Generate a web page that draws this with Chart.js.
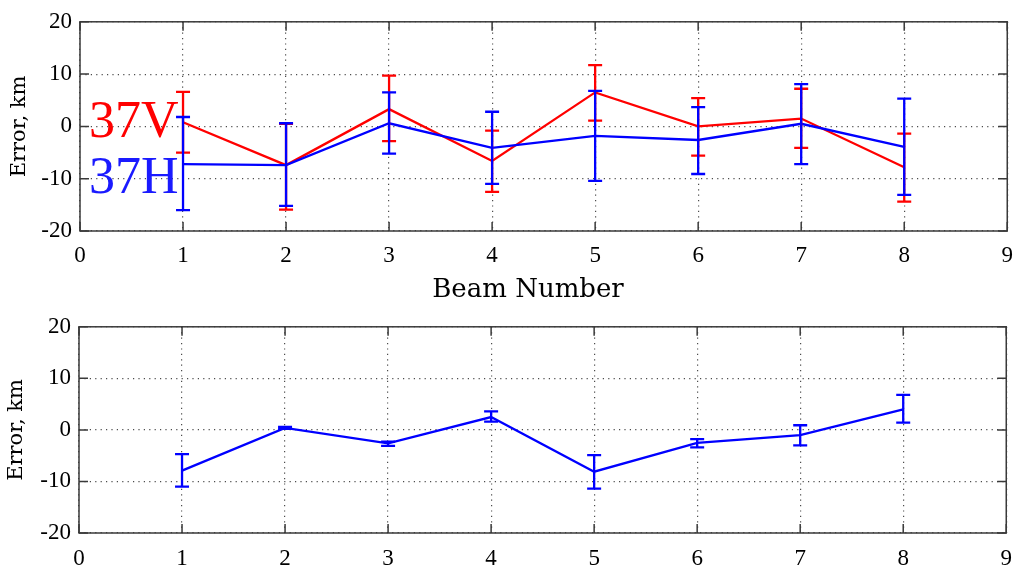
<!DOCTYPE html>
<html>
<head>
<meta charset="utf-8">
<script src="https://cdn.jsdelivr.net/npm/chart.js@4"></script>
<style>
  html, body { margin: 0; padding: 0; background: #fff; }
  body { width: 1024px; height: 570px; position: relative; overflow: hidden; }
  .box { position: absolute; left: 0; width: 1024px; }
  #topBox { top: 0; height: 305px; }
  #bottomBox { top: 305px; height: 265px; }
</style>
</head>
<body>
<div class="box" id="topBox"><canvas id="topChart"></canvas></div>
<div class="box" id="bottomBox"><canvas id="bottomChart"></canvas></div>
<script>
// Beam numbers (x values)
const beams = [1, 2, 3, 4, 5, 6, 7, 8];

// Top panel: 37V (red) and 37H (blue) mean errors, km
const v37Mean = [0.8, -7.4, 3.3, -6.6, 6.5, 0.0, 1.5, -7.8];
const v37Low  = [-5.0, -15.9, -2.8, -12.5, 1.1, -5.6, -4.1, -14.4];
const v37High = [6.6, 0.5, 9.7, -0.8, 11.7, 5.4, 7.2, -1.4];

const h37Mean = [-7.2, -7.4, 0.6, -4.1, -1.8, -2.6, 0.5, -3.9];
const h37Low  = [-16.0, -15.2, -5.2, -11.0, -10.4, -9.1, -7.2, -13.1];
const h37High = [1.8, 0.6, 6.5, 2.8, 6.8, 3.7, 8.1, 5.3];

// Bottom panel: single blue series
const botMean = [-7.9, 0.4, -2.6, 2.5, -8.1, -2.5, -1.0, 4.0];
const botLow  = [-11.0, 0.2, -3.1, 1.6, -11.4, -3.4, -3.0, 1.4];
const botHigh = [-4.7, 0.6, -2.3, 3.6, -4.9, -1.8, 0.9, 6.8];

const xTicks = [0, 1, 2, 3, 4, 5, 6, 7, 8, 9];
const yTicks = [-20, -10, 0, 10, 20];

const RED = "#ff0000";
const BLUE = "#0000ff";
const TICK_FONT = { family: "'Liberation Serif', serif", size: 23 };

function points(vals) {
  return vals.map((v, i) => ({ x: beams[i], y: v }));
}

// Matlab-like box with inner tick marks
const boxPlugin = {
  id: "boxPlugin",
  beforeDatasetsDraw(chart) {
    const { ctx, chartArea: a, scales: { x, y } } = chart;
    ctx.save();
    ctx.strokeStyle = "#3a3a3a";
    ctx.lineWidth = 1.5;
    ctx.beginPath();
    xTicks.forEach(t => {
      const px = x.getPixelForValue(t);
      ctx.moveTo(px, a.bottom); ctx.lineTo(px, a.bottom - 9);
      ctx.moveTo(px, a.top); ctx.lineTo(px, a.top + 9);
    });
    yTicks.forEach(t => {
      const py = y.getPixelForValue(t);
      ctx.moveTo(a.left, py); ctx.lineTo(a.left + 9, py);
      ctx.moveTo(a.right, py); ctx.lineTo(a.right - 9, py);
    });
    ctx.stroke();
    ctx.strokeRect(a.left, a.top, a.right - a.left, a.bottom - a.top);
    ctx.restore();
  }
};

// Error bars with caps, from the low/high arrays of each dataset
const errorBars = {
  id: "errorBars",
  afterDatasetsDraw(chart) {
    const { ctx, scales: { x, y } } = chart;
    const sets = chart.data.datasets.slice().sort((a, b) => b.order - a.order);
    sets.forEach(ds => {
      if (!ds.errLow) return;
      ctx.save();
      ctx.strokeStyle = ds.borderColor;
      ctx.lineWidth = 2.3;
      ds.data.forEach((p, j) => {
        const px = x.getPixelForValue(p.x);
        const lo = y.getPixelForValue(ds.errLow[j]);
        const hi = y.getPixelForValue(ds.errHigh[j]);
        ctx.beginPath();
        ctx.moveTo(px, lo); ctx.lineTo(px, hi);
        ctx.moveTo(px - 7, lo); ctx.lineTo(px + 7, lo);
        ctx.moveTo(px - 7, hi); ctx.lineTo(px + 7, hi);
        ctx.stroke();
      });
      ctx.restore();
    });
  }
};

// Free text written on the canvas (series labels, x title)
const freeText = {
  id: "freeText",
  afterDatasetsDraw(chart) {
    const opts = chart.options.plugins.freeText;
    if (!opts || !opts.items) return;
    const { ctx } = chart;
    ctx.save();
    opts.items.forEach(l => {
      ctx.font = l.font;
      ctx.fillStyle = l.color;
      ctx.textAlign = l.align || "left";
      ctx.textBaseline = l.baseline || "alphabetic";
      ctx.fillText(l.text, l.x, l.y);
    });
    ctx.restore();
  }
};

function makeOptions(cfg) {
  return {
    responsive: true,
    maintainAspectRatio: false,
    animation: false,
    layout: { padding: { top: cfg.padTop, right: cfg.padRight, left: 0, bottom: 0 } },
    plugins: {
      legend: { display: false },
      tooltip: { enabled: false },
      freeText: { items: cfg.labels || [] }
    },
    elements: { point: { radius: 0 }, line: { tension: 0 } },
    scales: {
      x: {
        type: "linear",
        min: 0,
        max: 9,
        afterBuildTicks: s => { s.ticks = xTicks.map(v => ({ value: v })); },
        afterFit: s => { s.height = cfg.xHeight; },
        ticks: { font: TICK_FONT, color: "#000", padding: cfg.xTickPad, maxRotation: 0 },
        grid: { color: "rgba(0,0,0,0.7)", lineWidth: 1.2, drawTicks: false },
        border: { display: false, dash: [1.2, 4.2] }
      },
      y: {
        min: -20,
        max: 20,
        afterBuildTicks: s => { s.ticks = yTicks.map(v => ({ value: v })); },
        afterFit: s => { s.width = cfg.yWidth; },
        ticks: { font: TICK_FONT, color: "#000", padding: 8 },
        grid: { color: "rgba(0,0,0,0.7)", lineWidth: 1.2, drawTicks: false },
        border: { display: false, dash: [1.2, 4.2] },
        title: {
          display: true,
          text: "Error, km",
          color: "#000",
          font: { family: "'DejaVu Serif', serif", size: 21 },
          padding: { top: cfg.yTitlePad, bottom: 0 }
        }
      }
    }
  };
}

new Chart(document.getElementById("topChart"), {
  type: "line",
  data: {
    datasets: [
      {
        label: "37V",
        data: points(v37Mean),
        errLow: v37Low,
        errHigh: v37High,
        borderColor: RED,
        borderWidth: 2.3,
        order: 2
      },
      {
        label: "37H",
        data: points(h37Mean),
        errLow: h37Low,
        errHigh: h37High,
        borderColor: BLUE,
        borderWidth: 2.3,
        order: 1
      }
    ]
  },
  options: makeOptions({
    padTop: 16, padRight: 14, xHeight: 74, yWidth: 80, yTitlePad: 7, xTickPad: 11,
    labels: [
      { text: "37V", color: RED, x: 89, y: 137, font: "52px 'Liberation Serif', serif" },
      { text: "37H", color: "#1a1aff", x: 89, y: 193, font: "52px 'Liberation Serif', serif" },
      { text: "Beam Number", color: "#000", x: 528, y: 290, align: "center", baseline: "middle",
        font: "26px 'DejaVu Serif', serif" }
    ]
  }),
  plugins: [boxPlugin, errorBars, freeText]
});

new Chart(document.getElementById("bottomChart"), {
  type: "line",
  data: {
    datasets: [
      {
        label: "37H",
        data: points(botMean),
        errLow: botLow,
        errHigh: botHigh,
        borderColor: BLUE,
        borderWidth: 2.3,
        order: 1
      }
    ]
  },
  options: makeOptions({
    padTop: 13, padRight: 13, xHeight: 37, yWidth: 79, yTitlePad: 4, xTickPad: 12
  }),
  plugins: [boxPlugin, errorBars, freeText]
});
</script>
</body>
</html>
